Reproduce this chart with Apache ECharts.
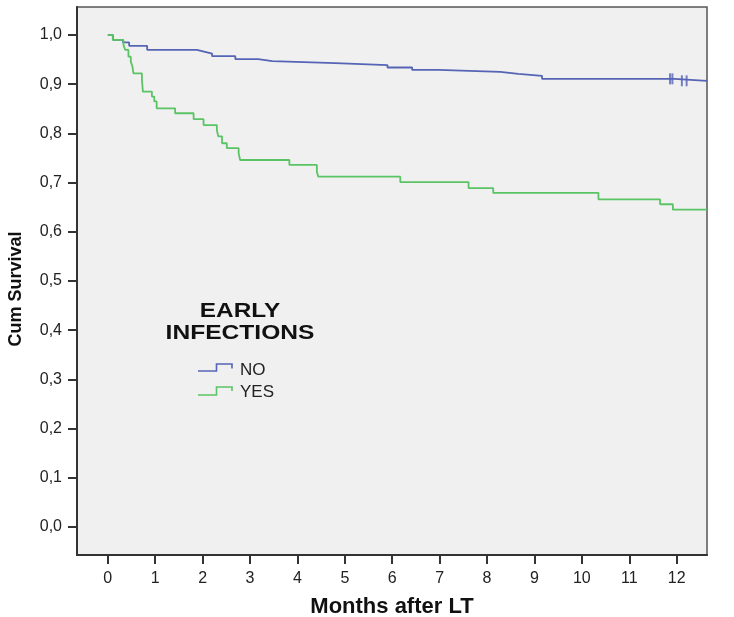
<!DOCTYPE html>
<html>
<head>
<meta charset="utf-8">
<script src="https://cdn.jsdelivr.net/npm/echarts@6/dist/echarts.min.js"></script>
<style>html,body{margin:0;padding:0;background:#fff;}#c{width:734px;height:617px;}</style>
</head>
<body>
<div id="c"></div>
<script>
// Kaplan-Meier steps: [month, cumulative survival]
var noTimes  = [0, 0.11, 0.32, 0.45, 0.83, 1.88, 2.05, 2.2, 2.69, 3.17, 3.47, 4.8, 5.9, 6.42, 6.97, 8.28, 8.66, 9.16, 11.95, 12.64];
var noSurv   = [1.0, 0.99, 0.985, 0.978, 0.970, 0.966, 0.962, 0.957, 0.951, 0.947, 0.943, 0.939, 0.934, 0.929, 0.925, 0.921, 0.917, 0.911, 0.907, 0.907];
var yesTimes = [0, 0.105, 0.33, 0.365, 0.435, 0.485, 0.52, 0.54, 0.72, 0.74, 0.93, 0.98, 1.03, 1.42, 1.81, 2.02, 2.30, 2.33, 2.41, 2.51, 2.76, 2.79, 3.83, 4.41, 4.44, 6.17, 7.61, 8.13, 10.35, 11.65, 11.92, 12.64];
var yesSurv  = [1.0, 0.99, 0.980, 0.970, 0.956, 0.946, 0.936, 0.922, 0.909, 0.885, 0.875, 0.865, 0.851, 0.841, 0.829, 0.817, 0.807, 0.794, 0.780, 0.770, 0.760, 0.746, 0.736, 0.722, 0.712, 0.701, 0.689, 0.679, 0.666, 0.656, 0.645, 0.645];
var noCensorTimes = [11.86, 11.91, 12.11, 12.21];
var noCensorSurv  = [0.911, 0.911, 0.907, 0.907];
var xTicks = [0, 1, 2, 3, 4, 5, 6, 7, 8, 9, 10, 11, 12];
var yTicks = [0, 0.1, 0.2, 0.3, 0.4, 0.5, 0.6, 0.7, 0.8, 0.9, 1.0];
var seriesNames = ['NO', 'YES'];
var legendTitle = ['EARLY', 'INFECTIONS'];

function zip(a, b) { return a.map(function (v, i) { return [v, b[i]]; }); }

var BLUE = '#5564b4', GREEN = '#5ac464';
var FONT = '"Liberation Sans", Arial, sans-serif';

var chart = echarts.init(document.getElementById('c'));
chart.setOption({
  animation: false,
  backgroundColor: '#ffffff',
  grid: { left: 77, top: 7, right: 27, bottom: 62, outerBoundsMode: 'none', containLabel: false,
    show: true, backgroundColor: '#f0f0f0', borderColor: '#555', borderWidth: 1.5 },
  xAxis: {
    type: 'value', min: -0.65, max: 12.64,
    name: 'Months after LT', nameLocation: 'middle', nameGap: 41,
    nameTextStyle: { fontFamily: FONT, fontSize: 22, fontWeight: 'bold', color: '#111' },
    axisLine: { onZero: false, lineStyle: { color: '#333', width: 2 } },
    axisTick: { show: true, customValues: xTicks, length: 9, lineStyle: { color: '#333', width: 2 } },
    axisLabel: { customValues: xTicks, margin: 16, fontFamily: FONT, fontSize: 16, color: '#222' },
    splitLine: { show: false }
  },
  yAxis: {
    type: 'value', min: -0.057, max: 1.057,
    name: 'Cum Survival', nameLocation: 'middle', nameGap: 52, nameRotate: 90,
    nameTextStyle: { fontFamily: FONT, fontSize: 18, fontWeight: 'bold', color: '#111', padding: [0, 16, 0, 0] },
    axisLine: { onZero: false, lineStyle: { color: '#333', width: 2 } },
    axisTick: { show: true, customValues: yTicks, length: 9, lineStyle: { color: '#333', width: 2 } },
    axisLabel: { customValues: yTicks, margin: 15, fontFamily: FONT, fontSize: 16, color: '#222',
      formatter: function (v) { return v.toFixed(1).replace('.', ','); } },
    splitLine: { show: false }
  },
  series: [
    { name: seriesNames[0], type: 'line', step: 'end', showSymbol: false, symbol: 'none',
      data: zip(noTimes, noSurv), lineStyle: { color: BLUE, width: 1.8 }, itemStyle: { color: BLUE } },
    { name: seriesNames[1], type: 'line', step: 'end', showSymbol: false, symbol: 'none',
      data: zip(yesTimes, yesSurv), lineStyle: { color: GREEN, width: 1.8 }, itemStyle: { color: GREEN } },
    { name: seriesNames[0] + ' censored', type: 'scatter', symbol: 'rect', symbolSize: [2, 11],
      data: zip(noCensorTimes, noCensorSurv), itemStyle: { color: BLUE } }
  ],
  graphic: [
    { type: 'text', x: 240, y: 311, scaleX: 1.16, style: { text: legendTitle[0], font: 'bold 21px ' + FONT, fill: '#111', align: 'center', verticalAlign: 'middle' } },
    { type: 'text', x: 240, y: 333, scaleX: 1.17, style: { text: legendTitle[1], font: 'bold 21px ' + FONT, fill: '#111', align: 'center', verticalAlign: 'middle' } },
    { type: 'polyline', shape: { points: [[198, 371], [216.5, 371], [216.5, 364], [232, 364], [232, 368.5]] }, style: { stroke: BLUE, lineWidth: 1.6, fill: null } },
    { type: 'polyline', shape: { points: [[198, 395], [216.5, 395], [216.5, 387], [232, 387], [232, 391]] }, style: { stroke: GREEN, lineWidth: 1.6, fill: null } },
    { type: 'text', x: 240, y: 370, style: { text: seriesNames[0], font: '17px ' + FONT, fill: '#222', verticalAlign: 'middle' } },
    { type: 'text', x: 240, y: 392, style: { text: seriesNames[1], font: '17px ' + FONT, fill: '#222', verticalAlign: 'middle' } }
  ]
});
</script>
</body>
</html>
